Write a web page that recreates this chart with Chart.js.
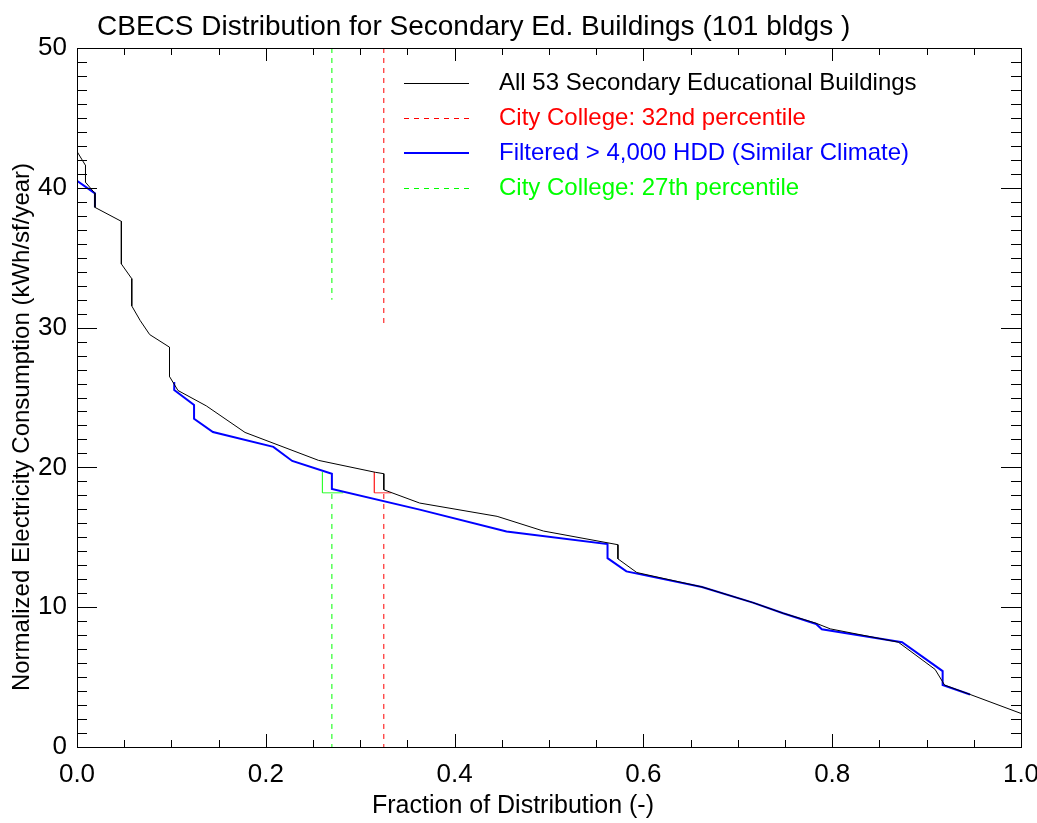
<!DOCTYPE html>
<html>
<head>
<meta charset="utf-8">
<script src="https://cdn.jsdelivr.net/npm/chart.js@4.4.1/dist/chart.umd.min.js"></script>
<style>
  html, body { margin: 0; padding: 0; background: #fff; }
  #wrap { width: 1037px; height: 823px; position: relative; }
</style>
</head>
<body>
<div id="wrap"><canvas id="cbecsChart"></canvas></div>
<script>
// All 53 secondary educational buildings (sorted distribution)
const allX = [0, 0, 0.009, 0.009, 0.019, 0.019, 0.047, 0.047, 0.058, 0.058, 0.067, 0.077, 0.098, 0.098, 0.107, 0.137, 0.178, 0.256, 0.316, 0.325, 0.325, 0.363, 0.445, 0.494, 0.573, 0.573, 0.593, 0.662, 0.716, 0.748, 0.783, 0.798, 0.870, 0.909, 0.917, 0.919, 0.946, 1.0];
const allY = [43.3, 42.6, 41.6, 40.4, 39.6, 38.6, 37.6, 34.55, 33.5, 31.55, 30.5, 29.5, 28.6, 26.5, 25.5, 24.4, 22.5, 20.5, 19.65, 19.55, 18.4, 17.45, 16.5, 15.45, 14.47, 13.46, 12.48, 11.45, 10.33, 9.57, 8.85, 8.45, 7.5, 5.55, 4.66, 4.43, 3.76, 2.4];

// Filtered > 4,000 HDD (null = gap in the drawn curve)
const filtX = [0, 0, 0.019, 0.019, 0.05, 0.103, 0.103, 0.124, 0.124, 0.144, 0.208, 0.228, 0.270, 0.270, 0.363, 0.455, 0.562, 0.562, 0.582, 0.662, 0.716, 0.748, 0.783, 0.789, 0.874, 0.917, 0.917, 0.946];
const filtY = [42.4, 40.5, 39.6, 38.6, null, 26.1, 25.54, 24.46, 23.48, 22.53, 21.47, 20.46, 19.54, 18.46, 16.98, 15.42, 14.52, 13.51, 12.56, 11.45, 10.33, 9.57, 8.8, 8.42, 7.49, 5.43, 4.43, 3.76];

// City College markers
const redPct = 0.325;
const redUpperY = [50, 30];
const redLowerY = [18.1, 0];
const redBoxX = [0.315, 0.315, 0.333];
const redBoxY = [19.65, 18.18, 18.18];

const greenPct = 0.270;
const greenUpperY = [50, 32];
const greenLowerY = [18.1, 0];
const greenBoxX = [0.260, 0.260, 0.282];
const greenBoxY = [19.65, 18.18, 18.18];

const xTickValues = [0, 0.2, 0.4, 0.6, 0.8, 1.0];
const yTickValues = [0, 10, 20, 30, 40, 50];

const legendLabels = ['All 53 Secondary Educational Buildings', 'City College: 32nd percentile', 'Filtered > 4,000 HDD (Similar Climate)', 'City College: 27th percentile'];
const legendColors = ['#000000', '#ff0000', '#0000ff', '#00ff00'];
const legendDashed = [false, true, false, true];
const legendWidths = [1, 1, 2, 1];

const titleText = 'CBECS Distribution for Secondary Ed. Buildings (101 bldgs )';
const xTitle = 'Fraction of Distribution (-)';
const yTitle = 'Normalized Electricity Consumption (kWh/sf/year)';

const FONT = '"Liberation Sans", Arial, Helvetica, sans-serif';

const pts = (xs, ys) => xs.map((x, i) => ({ x: x, y: ys[i] }));
const vline = (x, ys) => ys.map(y => ({ x: x, y: y }));

function lineSet(data, color, width, dash, order) {
    return {
        data: data,
        borderColor: color,
        borderWidth: width,
        borderDash: dash || [],
        pointRadius: 0,
        tension: 0,
        fill: false,
        spanGaps: false,
        order: order
    };
}

const decorations = {
    id: 'decorations',
    afterDraw(chart) {
        const ctx = chart.ctx;
        const ca = chart.chartArea;
        const xs = chart.scales.x;
        const ys = chart.scales.y;
        ctx.save();

        // frame
        ctx.strokeStyle = '#000';
        ctx.lineWidth = 1;
        ctx.strokeRect(Math.round(ca.left) + 0.5, Math.round(ca.top) + 0.5, Math.round(ca.right - ca.left), Math.round(ca.bottom - ca.top));

        // inward ticks, y: every 1 unit, major every 10
        ctx.beginPath();
        for (let v = 0; v <= 50; v++) {
            const py = Math.round(ys.getPixelForValue(v)) + 0.5;
            const len = v % 10 === 0 ? 20 : 10;
            ctx.moveTo(ca.left, py); ctx.lineTo(ca.left + len, py);
            ctx.moveTo(ca.right, py); ctx.lineTo(ca.right - len, py);
        }
        // x: every 0.05, major every 0.2
        for (let i = 0; i <= 20; i++) {
            const px = Math.round(xs.getPixelForValue(i * 0.05)) + 0.5;
            const len = i % 4 === 0 ? 13 : 7;
            ctx.moveTo(px, ca.bottom); ctx.lineTo(px, ca.bottom - len);
            ctx.moveTo(px, ca.top); ctx.lineTo(px, ca.top + len);
        }
        ctx.stroke();

        // legend
        ctx.font = '24px ' + FONT;
        ctx.textBaseline = 'middle';
        ctx.textAlign = 'left';
        const rowY = [83, 118, 153, 188];
        legendLabels.forEach((lab, i) => {
            ctx.strokeStyle = legendColors[i];
            ctx.lineWidth = legendWidths[i];
            ctx.setLineDash(legendDashed[i] ? [5, 5] : []);
            ctx.beginPath();
            const off = legendWidths[i] % 2 ? 0.5 : 0;
            ctx.moveTo(404, rowY[i] + off);
            ctx.lineTo(469, rowY[i] + off);
            ctx.stroke();
            ctx.fillStyle = legendColors[i];
            ctx.fillText(lab, 499, rowY[i]);
        });
        ctx.setLineDash([]);

        // titles
        ctx.fillStyle = '#000';
        ctx.font = '28px ' + FONT;
        ctx.fillText(titleText, 97, 27);
        ctx.font = '25px ' + FONT;
        ctx.textAlign = 'center';
        ctx.fillText(xTitle, 513, 806);
        ctx.font = '24px ' + FONT;
        ctx.translate(22, 427);
        ctx.rotate(-Math.PI / 2);
        ctx.fillText(yTitle, 0, 0);
        ctx.restore();
    }
};

new Chart(document.getElementById('cbecsChart'), {
    type: 'line',
    data: {
        datasets: [
            lineSet(pts(allX, allY), '#000000', 1, null, 0),
            lineSet(pts(filtX, filtY), '#0000ff', 2, null, 1),
            lineSet(vline(redPct, redUpperY), '#ff0000', 1, [5, 5], 2),
            lineSet(vline(redPct, redLowerY), '#ff0000', 1, [5, 5], 2),
            lineSet(pts(redBoxX, redBoxY), '#ff3030', 1, null, 2),
            lineSet(vline(greenPct, greenUpperY), '#00ff00', 1, [5, 5], 2),
            lineSet(vline(greenPct, greenLowerY), '#00ff00', 1, [5, 5], 2),
            lineSet(pts(greenBoxX, greenBoxY), '#30ff30', 1, null, 2)
        ]
    },
    options: {
        responsive: true,
        maintainAspectRatio: false,
        animation: false,
        events: [],
        layout: { padding: { top: 48, right: 16, left: 0, bottom: 0 } },
        plugins: {
            legend: { display: false },
            title: { display: false },
            tooltip: { enabled: false }
        },
        scales: {
            x: {
                type: 'linear',
                min: 0,
                max: 1,
                grid: { display: false, drawTicks: false },
                border: { display: false },
                afterBuildTicks: s => { s.ticks = xTickValues.map(v => ({ value: v })); },
                afterFit: s => { s.height = 76; s.paddingLeft = 0; s.paddingRight = 0; },
                ticks: {
                    color: '#000',
                    padding: 12,
                    maxRotation: 0,
                    font: { family: FONT, size: 26 },
                    callback: v => v.toFixed(1)
                }
            },
            y: {
                type: 'linear',
                min: 0,
                max: 50,
                grid: { display: false, drawTicks: false },
                border: { display: false },
                afterBuildTicks: s => { s.ticks = yTickValues.map(v => ({ value: v })); },
                afterFit: s => { s.width = 77; s.paddingTop = 0; s.paddingBottom = 0; },
                ticks: {
                    color: '#000',
                    padding: 10,
                    font: { family: FONT, size: 26 }
                }
            }
        }
    },
    plugins: [decorations]
});
</script>
</body>
</html>
